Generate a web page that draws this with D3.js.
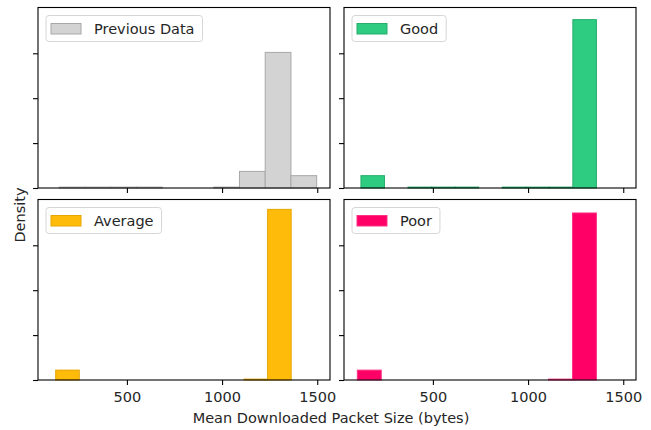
<!DOCTYPE html>
<html>
<head>
<meta charset="utf-8">
<script src="https://cdn.jsdelivr.net/npm/d3@7"></script>
<style>
  body { margin: 0; background: #fff; }
  text { font-family: 'DejaVu Sans', sans-serif; fill: #262626; }
</style>
</head>
<body>
<div id="chart"></div>
<script>
// categories (one panel each)
var seriesNames = ['Previous Data', 'Good', 'Average', 'Poor']
var seriesColors = ['#d3d3d3', '#2ecc80', '#ffbb0a', '#ff0066']
var seriesEdges = ['#a8a8a8', '#27ad6c', '#e6a600', '#ff3385']

// histogram bin range [min, max] per series, 10 bins each
var binRanges = [[145, 1497], [122, 1359], [126, 1363], [103, 1359]]

// density per bin
var prevDensity = [0.00004, 0.00004, 0.00004, 0.00004, 0, 0, 0.00004, 0.00074, 0.00604, 0.00055]
var goodDensity = [0.00055, 0, 0.00004, 0.00004, 0.00004, 0, 0.00004, 0.00004, 0.00004, 0.0075]
var avgDensity = [0.00044, 0, 0, 0, 0, 0, 0, 0, 0.00004, 0.0076]
var poorDensity = [0.00044, 0, 0, 0, 0, 0, 0, 0, 0.00004, 0.00744]
var densities = [prevDensity, goodDensity, avgDensity, poorDensity]

var xTicks = [500, 1000, 1500]
var yTicks = [0, 0.002, 0.004, 0.006]

var W = 651, H = 430
var FS = 14.5
var svg = d3.select('#chart').append('svg')
  .attr('width', W).attr('height', H)

svg.append('rect').attr('width', W).attr('height', H).attr('fill', '#fff')

// panel boxes: [left, top, width, height]
var panels = [
  [38, 7.5, 292, 180.5],
  [344, 7.5, 292, 180.5],
  [38, 199.5, 292, 180.5],
  [344, 199.5, 292, 180.5]
]

var xDomain = [33, 1567]
var yDomain = [0, 0.00804]

panels.forEach(function (p, i) {
  var x = d3.scaleLinear().domain(xDomain).range([p[0], p[0] + p[2]])
  var y = d3.scaleLinear().domain(yDomain).range([p[1] + p[3], p[1]])
  var g = svg.append('g')

  var r = binRanges[i]
  var step = (r[1] - r[0]) / 10
  var bins = densities[i].map(function (d, k) {
    return { x0: r[0] + k * step, x1: r[0] + (k + 1) * step, v: d }
  }).filter(function (b) { return b.v > 0 })

  g.selectAll('rect.bar')
    .data(bins)
    .enter().append('rect')
    .attr('class', 'bar')
    .attr('x', function (d) { return x(d.x0) })
    .attr('width', function (d) { return x(d.x1) - x(d.x0) })
    .attr('y', function (d) { return y(d.v) })
    .attr('height', function (d) { return y(0) - y(d.v) })
    .attr('fill', seriesColors[i])
    .attr('stroke', seriesEdges[i])
    .attr('stroke-width', 1)

  // axes
  var xAxis = d3.axisBottom(x).tickValues(xTicks).tickSize(5).tickPadding(7)
    .tickFormat(i < 2 ? '' : d3.format('d'))
  var xg = g.append('g').attr('transform', 'translate(0,' + (p[1] + p[3]) + ')').call(xAxis)
  var yg = g.append('g').attr('transform', 'translate(' + p[0] + ',0)')
    .call(d3.axisLeft(y).tickValues(yTicks).tickSize(5).tickFormat(''))
  ;[xg, yg].forEach(function (a) {
    a.select('.domain').remove()
    a.selectAll('line').attr('stroke', '#000').attr('stroke-width', 1.1)
    a.selectAll('text').attr('font-size', FS).attr('fill', '#262626')
  })

  // frame
  g.append('rect')
    .attr('x', p[0]).attr('y', p[1]).attr('width', p[2]).attr('height', p[3])
    .attr('fill', 'none').attr('stroke', '#000').attr('stroke-width', 1.1)

  // legend
  var lg = g.append('g').attr('transform', 'translate(' + (p[0] + 8) + ',' + (p[1] + 8) + ')')
  var label = lg.append('text').attr('x', 48).attr('y', 18).attr('font-size', FS)
    .text(seriesNames[i])
  var tw = label.node().getComputedTextLength()
  lg.insert('rect', 'text')
    .attr('x', 0).attr('y', 0).attr('rx', 3)
    .attr('width', tw + 56).attr('height', 26)
    .attr('fill', '#fff').attr('fill-opacity', 0.8)
    .attr('stroke', '#d6d6d6')
  lg.insert('rect', 'text')
    .attr('x', 5).attr('y', 8).attr('width', 30).attr('height', 10.5)
    .attr('fill', seriesColors[i]).attr('stroke', seriesEdges[i])
})

svg.append('text')
  .attr('x', 331).attr('y', 423).attr('text-anchor', 'middle').attr('font-size', FS)
  .text('Mean Downloaded Packet Size (bytes)')

svg.append('text')
  .attr('transform', 'translate(25,215) rotate(-90)')
  .attr('text-anchor', 'middle').attr('font-size', FS)
  .text('Density')
</script>
</body>
</html>
